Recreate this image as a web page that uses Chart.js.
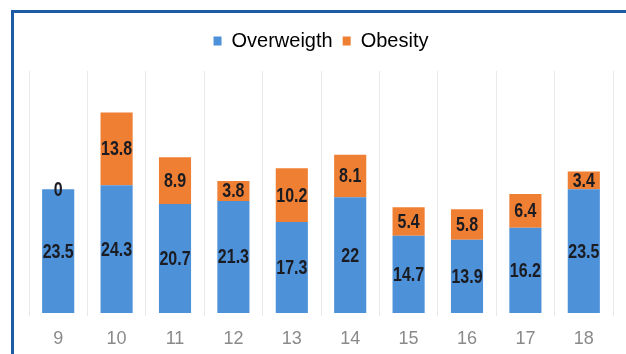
<!DOCTYPE html>
<html>
<head>
<meta charset="utf-8">
<script src="https://cdn.jsdelivr.net/npm/chart.js@4"></script>
<style>
  html, body { margin: 0; padding: 0; background: #fff; overflow: hidden; }
  #wrap { position: relative; width: 626px; height: 354px; }
  #frame {
    position: absolute; left: 11px; top: 10px; width: 640px; height: 360px;
    border: 3px solid #1c5ca4; box-sizing: border-box;
  }
  #chart { position: absolute; left: 0; top: 0; }
</style>
</head>
<body>
<div id="wrap">
  <div id="frame"></div>
  <canvas id="chart" width="626" height="354"></canvas>
</div>
<script>
// ages on the x axis
const ages = ["9", "10", "11", "12", "13", "14", "15", "16", "17", "18"];
// series values
const overweight = [23.5, 24.3, 20.7, 21.3, 17.3, 22, 14.7, 13.9, 16.2, 23.5];
const obesity = [0, 13.8, 8.9, 3.8, 10.2, 8.1, 5.4, 5.8, 6.4, 3.4];

const blue = "#4d91d8";
const orange = "#ef7f33";

// legend needs some room under it
const legendGap = {
  id: "legendGap",
  beforeInit(chart) {
    const fit = chart.legend.fit;
    chart.legend.fit = function () {
      fit.bind(chart.legend)();
      this.height += 10;
    };
  },
};

// numbers in the middle of each segment, squeezed like a narrow font
const barLabels = {
  id: "barLabels",
  afterDatasetsDraw(chart) {
    const ctx = chart.ctx;
    chart.data.datasets.forEach((ds, i) => {
      chart.getDatasetMeta(i).data.forEach((bar, j) => {
        const p = bar.getCenterPoint();
        ctx.save();
        ctx.translate(p.x, p.y + 1);
        ctx.scale(0.8, 1);
        ctx.font = "bold 20px 'Liberation Sans', Arial";
        ctx.fillStyle = "#1b1b22";
        ctx.textAlign = "center";
        ctx.textBaseline = "middle";
        ctx.fillText(String(ds.data[j]), 0, 0);
        ctx.restore();
      });
    });
  },
};

const config = {
  type: "bar",
  data: {
    labels: ages,
    datasets: [
      { label: "Overweigth", data: overweight, backgroundColor: blue },
      { label: "Obesity", data: obesity, backgroundColor: orange },
    ],
  },
  options: {
    responsive: false,
    animation: false,
    layout: { padding: { left: 29, right: 13, top: 21, bottom: 0 } },
    datasets: { bar: { categoryPercentage: 0.55, barPercentage: 1 } },
    scales: {
      x: {
        stacked: true,
        grid: { color: "#e9e9e9", tickLength: 3 },
        border: { display: false },
        ticks: { color: "#8a8a8a", padding: 12, font: { family: "'Liberation Sans', Arial", size: 18 } },
        afterFit(scale) {
          scale.height = 41;
        },
      },
      y: { stacked: true, display: false, min: 0, max: 46 },
    },
    plugins: {
      tooltip: { enabled: false },
      legend: {
        position: "top",
        labels: {
          boxWidth: 8,
          boxHeight: 9,
          padding: 10,
          color: "#000",
          font: { family: "'Liberation Sans', Arial", size: 20 },
        },
      },
    },
  },
  plugins: [legendGap, barLabels],
};

new Chart(document.getElementById("chart"), config);
</script>
</body>
</html>
